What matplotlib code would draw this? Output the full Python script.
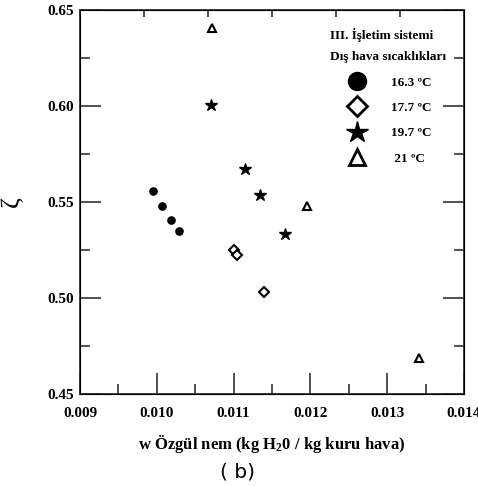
import numpy as np
import matplotlib.pyplot as plt
from matplotlib.lines import Line2D

# data
w_163 = [0.00995, 0.01007, 0.01019, 0.01029]
z_163 = [0.5556, 0.5479, 0.5405, 0.5348]

w_177 = [0.01100, 0.01105, 0.01140]
z_177 = [0.5249, 0.5224, 0.5033]

w_197 = [0.01070, 0.01115, 0.01135, 0.01167]
z_197 = [0.6004, 0.5672, 0.5535, 0.5335]

w_21 = [0.01072, 0.01195, 0.01341]
z_21 = [0.6405, 0.5480, 0.4686]

legend_labels = ['16.3 ºC', '17.7 ºC', '19.7 ºC', ' 21 ºC']
legend_title = 'III. İşletim sistemi\nDış hava sıcaklıkları'

SERIF = 'Liberation Serif'
plt.rcParams['font.family'] = SERIF
plt.rcParams['mathtext.fontset'] = 'custom'
plt.rcParams['mathtext.rm'] = 'Liberation Serif:bold'
plt.rcParams['mathtext.it'] = 'Liberation Serif:bold'

fig = plt.figure(figsize=(4.78, 4.86), dpi=100)
ax = fig.add_axes([0.1674, 0.1893, 0.8033, 0.7901])

ax.plot(w_163, z_163, 'o', color='black', ms=5.2, ls='none')
ax.plot(w_177, z_177, 'D', mfc='white', mec='black', mew=1.5, ms=5.3, ls='none')
ax.plot(w_197, z_197, '*', color='black', ms=9, ls='none')
ax.plot(w_21, z_21, '^', mfc='white', mec='black', mew=1.5, ms=6, ls='none')

ax.set_xlim(0.009, 0.014)
ax.set_ylim(0.45, 0.65)
ax.set_xticks(np.arange(0.009, 0.01401, 0.001))
ax.set_xticks(np.arange(0.0095, 0.0140, 0.001), minor=True)
ax.set_yticks(np.arange(0.45, 0.651, 0.05))
ax.set_yticks(np.arange(0.475, 0.65, 0.05), minor=True)
ax.set_xticklabels(['%.3f' % v for v in np.arange(0.009, 0.01401, 0.001)])
ax.set_yticklabels(['%.2f' % v for v in np.arange(0.45, 0.651, 0.05)])

ax.tick_params(which='major', direction='in', length=15, width=1.2,
               top=False, right=True, labelsize=11, colors='#333333',
               labelcolor='black', pad=4)
ax.tick_params(axis='x', which='major', pad=9)
ax.tick_params(which='minor', direction='in', length=7, width=1.2,
               top=False, right=True, colors='#333333')
for lab in ax.get_xticklabels() + ax.get_yticklabels():
    lab.set_fontweight('bold')
for sp in ax.spines.values():
    sp.set_linewidth(1.3)
    sp.set_color('#333333')

# top axis has its own ticks
top = ax.twiny()
top.set_xlim(0.009, 0.014)
top.set_xticks(np.linspace(0.009, 0.014, 7))
top.tick_params(direction='in', length=5, width=1.2, labeltop=False, colors='#333333')

ax.set_xlabel('w Özgül nem (kg H$_2$0 / kg kuru hava)', fontsize=12,
              fontweight='bold', labelpad=10)
ax.set_ylabel('ζ', fontsize=19, labelpad=18)

handles = [
    Line2D([], [], marker='o', color='black', ms=13, ls='none'),
    Line2D([], [], marker='D', mfc='white', mec='black', mew=2, ms=10, ls='none'),
    Line2D([], [], marker='*', color='black', ms=16, ls='none'),
    Line2D([], [], marker='^', mfc='white', mec='black', mew=2, ms=12, ls='none'),
]
leg = ax.legend(handles, legend_labels, title=legend_title, frameon=False,
                loc='upper right', bbox_to_anchor=(0.98, 0.98),
                prop={'family': SERIF, 'weight': 'bold', 'size': 9.5},
                title_fontproperties={'family': SERIF, 'weight': 'bold', 'size': 9.5},
                handletextpad=1.6, labelspacing=1.0, borderpad=0.3)
leg._legend_box.align = 'center'
leg.get_title().set_linespacing(2.0)

fig.text(0.496, 0.029, '( b)', fontsize=14.5, family='DejaVu Sans', ha='center', va='center')

fig.savefig('out.png', dpi=100)
